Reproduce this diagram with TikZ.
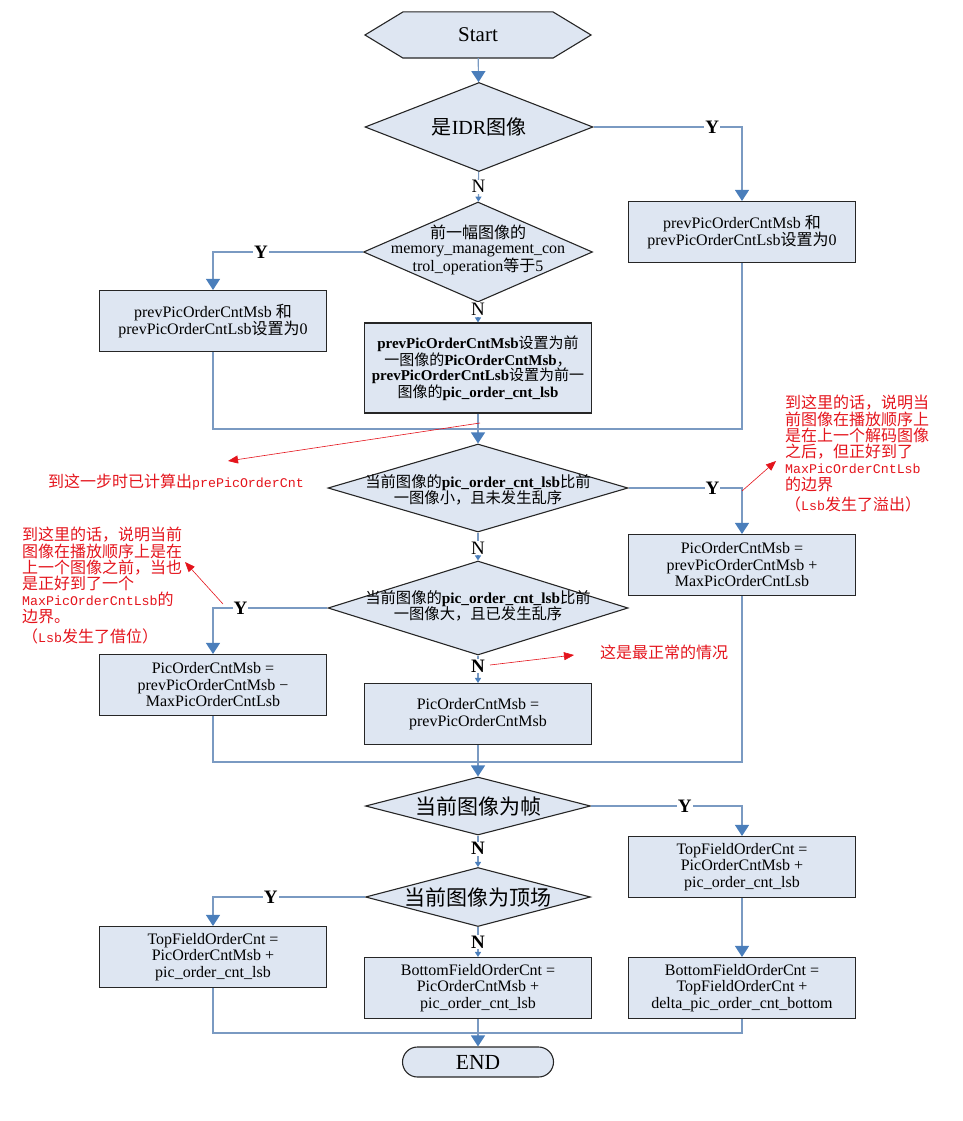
\documentclass[tikz,border=0pt]{standalone}
\usepackage{fontspec}
\setmainfont{Liberation Serif}
\newfontfamily\cjk{Noto Sans CJK SC}
\newfontfamily\redtt{Liberation Mono}[Scale=0.83]
\usepackage{tikz}
\usetikzlibrary{arrows.meta,shapes.geometric,backgrounds}
\newcommand{\zh}[1]{{\cjk\mdseries #1}}
\newcommand{\tx}[1]{{\redtt #1}}
\definecolor{boxfill}{RGB}{222,230,242}
\definecolor{flowline}{RGB}{122,154,194}
\definecolor{flowhead}{RGB}{74,126,187}
\definecolor{notered}{RGB}{228,20,28}
\tikzstyle{box}=[
  rectangle,
  draw=black!85,
  fill=boxfill,
  line width=1.1pt,
  minimum width=227pt,
  minimum height=61pt,
  inner sep=2pt,
  align=center,
  font={\fontsize{16}{16.5}\selectfont},
]
\tikzstyle{decision}=[
  diamond,
  draw=black!85,
  fill=boxfill,
  line width=1.1pt,
  inner sep=0pt,
]
\tikzstyle{dtext}=[
  align=center,
  inner sep=0pt,
  font={\fontsize{15}{16.5}\selectfont},
]
\tikzstyle{link}=[
  draw=flowline,
  line width=1.2pt,
]
\tikzstyle{flow}=[
  link,
  -{Triangle[length=11pt,width=14pt,color=flowhead]},
]
\tikzstyle{flowsmall}=[
  link,
  -{Triangle[length=5pt,width=6pt,color=flowhead]},
]
\tikzstyle{yn}=[
  fill=white,
  inner sep=1pt,
  font={\fontsize{19}{19}\selectfont\bfseries},
]
\tikzstyle{note}=[
  text=notered,
  align=left,
  inner sep=0pt,
  font={\fontsize{16}{16.3}\selectfont\cjk},
]
\tikzstyle{pointer}=[
  draw=notered,
  line width=0.6pt,
  -{Triangle[length=10pt,width=8pt]},
]

\begin{document}
\begin{tikzpicture}[x=1pt,y=-1pt]
  \useasboundingbox (0,0) rectangle (963,1121);
  % main column
  \node [box, draw=none, fill=none, minimum width=225pt, minimum height=45pt, font={\fontsize{21}{21}\selectfont}] (start) at (478,35) {Start};
  \node [decision, minimum width=228pt, minimum height=89pt] (idr) at (479,127) {};
  \node [dtext, font={\fontsize{20}{20}\selectfont}] (idrtxt) at (idr) {\zh{是}IDR\zh{图像}};
  \node [decision, minimum width=229pt, minimum height=100pt] (mmco) at (478,252) {};
  \node [dtext, font={\fontsize{16}{15.5}\selectfont}] (mmcotxt) at (478,250) {\zh{前一幅图像的}\\memory\_management\_con\\trol\_operation\zh{等于}5};
  \node [box, minimum height=90pt, font={\fontsize{15}{15}\selectfont\bfseries}] (c1) at (478,368) {prevPicOrderCntMsb\zh{设置为前}\\\zh{一图像的}PicOrderCntMsb\zh{，}\\prevPicOrderCntLsb\zh{设置为前一}\\\zh{图像的}pic\_order\_cnt\_lsb};
  \coordinate (m1) at (478,429);
  \node [decision, minimum width=300pt, minimum height=88pt] (less) at (478,488) {};
  \node [dtext, font={\fontsize{15.3}{16.5}\selectfont\bfseries}] (lesstxt) at (478,490) {\zh{当前图像的}pic\_order\_cnt\_lsb\zh{比前}\\\zh{一图像小，且未发生乱序}};
  \node [decision, minimum width=300pt, minimum height=94pt] (more) at (478,608) {};
  \node [dtext, font={\fontsize{15.3}{16.5}\selectfont\bfseries}] (moretxt) at (478,606) {\zh{当前图像的}pic\_order\_cnt\_lsb\zh{比前}\\\zh{一图像大，且已发生乱序}};
  \node [box] (c2) at (478,714) {PicOrderCntMsb =\\prevPicOrderCntMsb};
  \coordinate (m2) at (478,762);
  \node [decision, minimum width=225pt, minimum height=58pt] (frame) at (478,806) {};
  \node [dtext, font={\fontsize{21}{21}\selectfont}] (frametxt) at (frame) {\zh{当前图像为帧}};
  \node [decision, minimum width=225pt, minimum height=59pt] (topf) at (478,897) {};
  \node [dtext, font={\fontsize{21}{21}\selectfont}] (topftxt) at (topf) {\zh{当前图像为顶场}};
  \node [box] (c3) at (478,988) {BottomFieldOrderCnt =\\PicOrderCntMsb +\\pic\_order\_cnt\_lsb};
  \coordinate (m3) at (478,1033);
  \node [box, rounded corners=15pt, minimum width=151pt, minimum height=30pt, font={\fontsize{21.5}{21.5}\selectfont}] (finish) at (478,1062) {END};
  % side columns
  \node [box] (r1) at (742,232) {prevPicOrderCntMsb \zh{和}\\prevPicOrderCntLsb\zh{设置为}0};
  \node [box] (l1) at (213,321) {prevPicOrderCntMsb \zh{和}\\prevPicOrderCntLsb\zh{设置为}0};
  \node [box] (r2) at (742,565) {PicOrderCntMsb =\\prevPicOrderCntMsb +\\MaxPicOrderCntLsb};
  \node [box] (l2) at (213,685) {PicOrderCntMsb =\\prevPicOrderCntMsb −\\MaxPicOrderCntLsb};
  \node [box] (r3) at (742,867) {TopFieldOrderCnt =\\PicOrderCntMsb +\\pic\_order\_cnt\_lsb};
  \node [box] (r4) at (742,988) {BottomFieldOrderCnt =\\TopFieldOrderCnt +\\delta\_pic\_order\_cnt\_bottom};
  \node [box] (l3) at (213,957) {TopFieldOrderCnt =\\PicOrderCntMsb +\\pic\_order\_cnt\_lsb};
  \begin{scope}[on background layer]
    \draw [draw=black!85, fill=boxfill, line width=1.1pt] (start.west) -- ([xshift=38pt]start.north west) -- ([xshift=-38pt]start.north east) -- (start.east) -- ([xshift=-38pt]start.south east) -- ([xshift=38pt]start.south west) -- cycle;
  \end{scope}
  % connectors
  \draw [flow] (start) -- (idr);
  \draw [flow] (idr.east) -| node [yn, pos=0.4] {Y} (r1.north);
  \draw [flowsmall] (idr) -- node [yn, font={\fontsize{19}{19}\selectfont}] {N} (mmco);
  \draw [flow] (mmco.west) -| node [yn, pos=0.34] {Y} (l1.north);
  \draw [flowsmall] (mmco) -- node [yn, pos=0.35, font={\fontsize{19}{19}\selectfont}] {N} (c1);
  \draw [link] (l1.south) |- (m1) -| (r1.south);
  \draw [flow] (c1) -- (less);
  \draw [flow] (less.east) -| node [yn, pos=0.37] {Y} (r2.north);
  \draw [flowsmall] (less) -- node [yn, pos=0.55, font={\fontsize{19}{19}\selectfont}] {N} (more);
  \draw [flow] (more.west) -| node [yn, pos=0.38] {Y} (l2.north);
  \draw [flowsmall] (more) -- node [yn, pos=0.38] {N} (c2);
  \draw [link] (l2.south) |- (m2) -| (r2.south);
  \draw [flow] (c2) -- (frame);
  \draw [flow] (frame.east) -| node [yn, pos=0.31] {Y} (r3.north);
  \draw [flow] (r3) -- (r4);
  \draw [flowsmall] (frame) -- node [yn, pos=0.42] {N} (topf);
  \draw [flow] (topf.west) -| node [yn, pos=0.31] {Y} (l3.north);
  \draw [flowsmall] (topf) -- node [yn] {N} (c3);
  \draw [link] (l3.south) |- (m3) -| (r4.south);
  \draw [flow] (c3) -- (finish);
  % red notes
  \node [note, anchor=west] (note1) at (48,482) {到这一步时已计算出\tx{prePicOrderCnt}};
  \node [note, anchor=north west] (note2) at (785,395) {到这里的话，说明当\\前图像在播放顺序上\\是在上一个解码图像\\之后，但正好到了\\\tx{MaxPicOrderCntLsb}\\的边界\\[4pt]（\tx{Lsb}发生了溢出）};
  \node [note, anchor=north west] (note3) at (22,527) {到这里的话，说明当前\\图像在播放顺序上是在\\上一个图像之前，当也\\是正好到了一个\\\tx{MaxPicOrderCntLsb}的\\边界。\\[4pt]（\tx{Lsb}发生了借位）};
  \node [note, anchor=west] (note4) at (600,652) {这是最正常的情况};
  \coordinate (p1) at (480,423);
  \coordinate (t1) at (228,461);
  \coordinate (p2) at (742,491);
  \coordinate (t2) at (776,461);
  \coordinate (p3) at (223,604);
  \coordinate (t3) at (185,562);
  \coordinate (p4) at (490,665);
  \coordinate (t4) at (574,655);
  \draw [pointer] (p1) -- (t1);
  \draw [pointer] (p2) -- (t2);
  \draw [pointer] (p3) -- (t3);
  \draw [pointer] (p4) -- (t4);
\end{tikzpicture}
\end{document}
